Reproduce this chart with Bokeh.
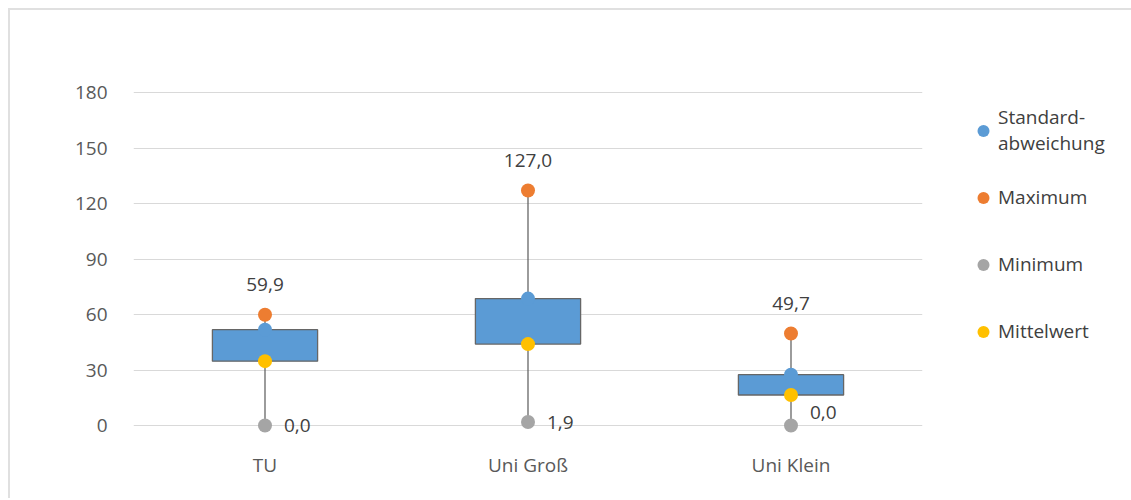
from bokeh.plotting import figure
from bokeh.models import ColumnDataSource, FactorRange, Range1d, Legend, LegendItem, FixedTicker
from bokeh.core.properties import value
from bokeh.embed import file_html
from bokeh.resources import INLINE

# ---- data ----
categories = ["TU", "Uni Groß", "Uni Klein"]
std_upper = [51.8, 68.6, 27.5]      # Standardabweichung (box top)
maximum = [59.9, 127.0, 49.7]
minimum = [0.0, 1.9, 0.0]
mean = [34.8, 44.0, 16.5]           # Mittelwert (box bottom)
y_ticks = [0, 30, 60, 90, 120, 150, 180]
legend_labels = ["Standard-\nabweichung", "Maximum", "Minimum", "Mittelwert"]

# label offsets (style only)
min_label_dy = [0, 0, -13]

FONT = "Open Sans"
BLUE, ORANGE, GRAY, YELLOW = "#5B9BD5", "#ED7D31", "#A5A5A5", "#FFC000"

def fmt(v):
    return f"{v:.1f}".replace(".", ",")

src = ColumnDataSource(dict(
    cat=categories, std=std_upper, mx=maximum, mn=minimum, mean=mean,
    mx_txt=[fmt(v) for v in maximum], mn_txt=[fmt(v) for v in minimum],
    mn_dy=min_label_dy,
))

p = figure(x_range=FactorRange(*categories, range_padding=0),
           y_range=Range1d(-8.1, 186.5),
           frame_width=789, frame_height=360, output_backend="svg", toolbar_location=None,
           min_border_left=123, min_border_right=0, min_border_top=70, min_border_bottom=58)
p.styles = {"margin-top": "8px", "margin-left": "8px",
            "border-top": "2px solid #E0E0E0", "border-left": "2px solid #E0E0E0"}

p.outline_line_color = None
p.xgrid.grid_line_color = None
p.ygrid.grid_line_color = "#D9D9D9"
p.ygrid.grid_line_width = 1
p.yaxis.ticker = FixedTicker(ticks=y_ticks)
for ax in (p.xaxis[0], p.yaxis[0]):
    ax.axis_line_color = None
    ax.major_tick_line_color = None
    ax.minor_tick_line_color = None
    ax.major_label_text_font = FONT
    ax.major_label_text_font_size = "19px"
    ax.major_label_text_color = "#595959"
p.yaxis.major_label_standoff = 20
p.xaxis.major_label_standoff = 5

# whisker line min -> max
p.segment(x0="cat", y0="mn", x1="cat", y1="mx", source=src, line_color="#595959", line_width=1.2)
# box between mean and std
p.vbar(x="cat", bottom="mean", top="std", width=0.4, source=src,
       fill_color=BLUE, line_color="#666666", line_width=1.3)

r_std = p.scatter(x="cat", y="std", source=src, size=14, fill_color=BLUE, line_color=None)
r_max = p.scatter(x="cat", y="mx", source=src, size=14, fill_color=ORANGE, line_color=None)
r_min = p.scatter(x="cat", y="mn", source=src, size=14, fill_color=GRAY, line_color=None)
r_mean = p.scatter(x="cat", y="mean", source=src, size=14, fill_color=YELLOW, line_color=None)

p.text(x="cat", y="mx", text="mx_txt", source=src, text_align="center", text_baseline="middle",
       y_offset=-30, text_font=value(FONT), text_font_size="19px", text_color="#404040")
p.text(x="cat", y="mn", text="mn_txt", source=src, text_align="left", text_baseline="middle",
       x_offset=19, y_offset="mn_dy", text_font=value(FONT), text_font_size="19px", text_color="#404040")

legend = Legend(items=[LegendItem(label=lab, renderers=[r])
                       for lab, r in zip(legend_labels, [r_std, r_max, r_min, r_mean])],
                location=(46, 83), padding=0, margin=0, spacing=15,
                border_line_color=None, background_fill_alpha=0,
                glyph_width=30, glyph_height=33, label_standoff=0, label_height=52,
                label_text_font=FONT, label_text_font_size="19px", label_text_color="#404040")
p.add_layout(legend, "right")

open("out.html", "w").write(file_html(p, INLINE))
